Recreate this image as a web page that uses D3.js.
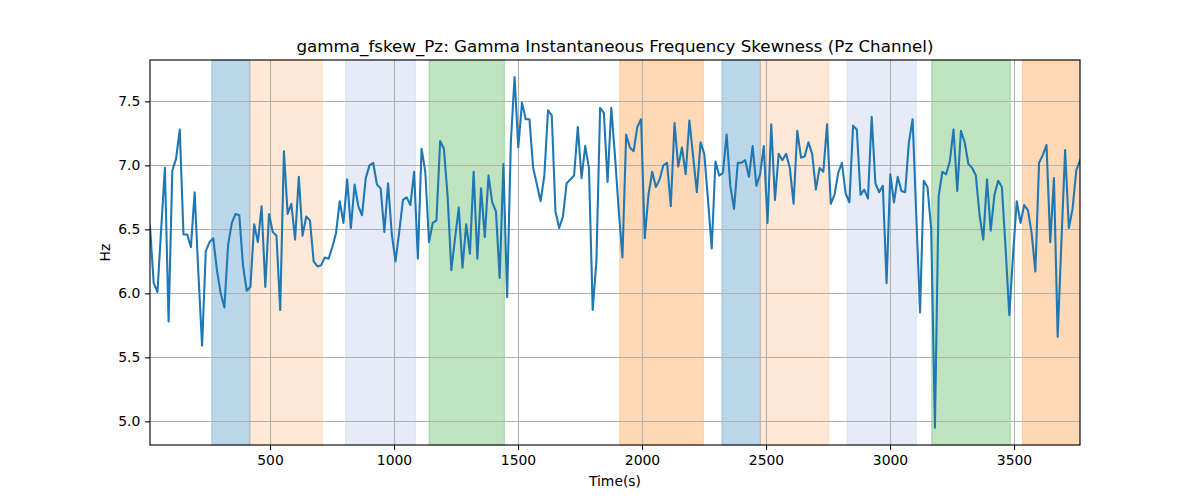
<!DOCTYPE html>
<html>
<head>
<meta charset="utf-8">
<script src="https://cdn.jsdelivr.net/npm/d3@7"></script>
<style>
  html, body { margin: 0; padding: 0; background: #fff; }
  svg { display: block; font-family: "DejaVu Sans", sans-serif; }
</style>
</head>
<body>
<svg id="chart" width="1200" height="500"></svg>
<script>
// ---- data ----
const timeStart = 16;
const timeStep = 15;
const values = [
  6.52, 6.08, 6.01, 6.50, 6.98, 5.78, 6.96, 7.05, 7.28, 6.46,
  6.46, 6.36, 6.79, 6.16, 5.59, 6.33, 6.40, 6.43, 6.18, 6.00,
  5.89, 6.38, 6.55, 6.62, 6.61, 6.22, 6.02, 6.05, 6.54, 6.40,
  6.68, 6.05, 6.62, 6.48, 6.45, 5.87, 7.11, 6.62, 6.70, 6.42,
  6.91, 6.45, 6.60, 6.57, 6.25, 6.21, 6.22, 6.28, 6.27, 6.36,
  6.47, 6.72, 6.55, 6.89, 6.51, 6.85, 6.68, 6.61, 6.90, 7.00,
  7.02, 6.85, 6.82, 6.48, 6.86, 6.46, 6.25, 6.48, 6.73, 6.75,
  6.69, 6.95, 6.27, 7.13, 6.95, 6.40, 6.55, 6.57, 7.19, 7.13,
  6.76, 6.18, 6.43, 6.67, 6.20, 6.54, 6.31, 6.95, 6.27, 6.82,
  6.44, 6.92, 6.71, 6.64, 6.12, 7.01, 5.97, 7.18, 7.69, 7.14,
  7.49, 7.36, 7.36, 6.98, 6.85, 6.72, 6.92, 7.43, 7.39, 6.64,
  6.51, 6.60, 6.86, 6.89, 6.92, 7.30, 6.90, 7.15, 6.98, 5.87,
  6.25, 7.45, 7.41, 6.87, 7.45, 7.07, 6.65, 6.28, 7.24, 7.14,
  7.11, 7.30, 7.36, 6.43, 6.77, 6.95, 6.83, 6.89, 7.00, 7.02,
  6.68, 7.33, 6.99, 7.14, 6.93, 7.35, 7.07, 6.79, 7.18, 7.09,
  6.73, 6.35, 7.03, 6.92, 6.94, 7.24, 6.84, 6.66, 7.02, 7.02,
  7.04, 6.91, 7.15, 6.84, 6.93, 7.15, 6.55, 7.32, 6.73, 7.09,
  7.04, 7.09, 6.98, 6.70, 7.27, 7.06, 7.07, 7.18, 7.09, 6.81,
  6.98, 6.95, 7.32, 6.70, 6.77, 6.94, 7.02, 6.78, 6.71, 7.31,
  7.28, 6.77, 6.81, 6.74, 7.38, 6.86, 6.79, 6.84, 6.08, 6.93,
  6.71, 6.91, 6.80, 6.79, 7.18, 7.36, 6.60, 5.85, 6.88, 6.83,
  6.50, 4.95, 6.76, 6.95, 6.93, 7.03, 7.28, 6.80, 7.27, 7.18,
  7.01, 6.98, 6.92, 6.61, 6.42, 6.89, 6.49, 6.77, 6.88, 6.83,
  6.35, 5.83, 6.30, 6.72, 6.55, 6.69, 6.65, 6.47, 6.17, 7.02,
  7.08, 7.16, 6.40, 6.90, 5.66, 6.40, 7.12, 6.51, 6.66, 6.96,
  7.04
];
const bandStarts = [265, 419, 805, 1141, 1910, 2322, 2477, 2826, 3168, 3534];
const bandEnds   = [419, 711, 1086, 1445, 2247, 2477, 2754, 3106, 3485, 3766];
const bandKinds  = ["blue", "lightorange", "lightblue", "green", "orange",
                    "blue", "lightorange", "lightblue", "green", "orange"];
const xTicks = [500, 1000, 1500, 2000, 2500, 3000, 3500];
const yTicks = [5.0, 5.5, 6.0, 6.5, 7.0, 7.5];
const xDomain = [16, 3766];
const yDomain = [4.815, 7.823];
const titleText = "gamma_fskew_Pz: Gamma Instantaneous Frequency Skewness (Pz Channel)";
const xLabel = "Time(s)";
const yLabel = "Hz";

// ---- styles ----
const bandColors = {
  blue: "rgba(31,119,180,0.3)",
  lightorange: "rgba(255,127,14,0.17)",
  lightblue: "rgba(100,140,210,0.17)",
  green: "rgba(44,160,44,0.3)",
  orange: "rgba(255,127,14,0.3)"
};

const points = values.map((v, i) => ({ t: timeStart + i * timeStep, v }));

const margin = { left: 150, right: 120, top: 60, bottom: 55 };
const W = 1200, H = 500;
const svg = d3.select("#chart");

const x = d3.scaleLinear().domain(xDomain).range([margin.left, W - margin.right]);
const y = d3.scaleLinear().domain(yDomain).range([H - margin.bottom, margin.top]);

// bands
svg.append("g").selectAll("rect")
  .data(bandStarts.map((s, i) => ({ s, e: bandEnds[i], k: bandKinds[i] })))
  .join("rect")
  .attr("x", d => x(d.s))
  .attr("width", d => x(d.e) - x(d.s))
  .attr("y", margin.top)
  .attr("height", H - margin.bottom - margin.top)
  .attr("fill", d => bandColors[d.k])
  .attr("stroke", d => bandColors[d.k])
  .attr("stroke-width", 1);

// grid
const grid = svg.append("g").attr("stroke", "#b0b0b0").attr("stroke-width", 1.1);
grid.selectAll("line.gx").data(xTicks).join("line")
  .attr("x1", d => Math.round(x(d)) + 0.5).attr("x2", d => Math.round(x(d)) + 0.5)
  .attr("y1", margin.top).attr("y2", H - margin.bottom);
grid.selectAll("line.gy").data(yTicks).join("line")
  .attr("y1", d => Math.round(y(d)) + 0.5).attr("y2", d => Math.round(y(d)) + 0.5)
  .attr("x1", margin.left).attr("x2", W - margin.right);

// line
const clipId = "plotclip";
svg.append("clipPath").attr("id", clipId).append("rect")
  .attr("x", margin.left).attr("y", margin.top)
  .attr("width", W - margin.left - margin.right)
  .attr("height", H - margin.top - margin.bottom);

svg.append("path")
  .datum(points)
  .attr("clip-path", `url(#${clipId})`)
  .attr("fill", "none")
  .attr("stroke", "#1f77b4")
  .attr("stroke-width", 2.08)
  .attr("stroke-linejoin", "round")
  .attr("stroke-linecap", "square")
  .attr("d", d3.line().x(d => x(d.t)).y(d => y(d.v)));

// axes
const xAxis = d3.axisBottom(x).tickValues(xTicks).tickFormat(d3.format("d"))
  .tickSize(4.86).tickPadding(4.86);
const yAxis = d3.axisLeft(y).tickValues(yTicks).tickFormat(d3.format(".1f"))
  .tickSize(4.86).tickPadding(4.86);

const gx = svg.append("g").attr("transform", `translate(0,${H - margin.bottom})`).call(xAxis);
const gy = svg.append("g").attr("transform", `translate(${margin.left},0)`).call(yAxis);
[gx, gy].forEach(g => {
  g.select(".domain").remove();
  g.selectAll(".tick line").attr("stroke", "#000").attr("stroke-width", 1.1);
  g.selectAll(".tick text").attr("fill", "#000")
    .style("font-family", "'DejaVu Sans', sans-serif").style("font-size", "13.9px");
});

// frame
svg.append("rect")
  .attr("x", margin.left).attr("y", margin.top)
  .attr("width", W - margin.left - margin.right)
  .attr("height", H - margin.top - margin.bottom)
  .attr("fill", "none").attr("stroke", "#000").attr("stroke-width", 1.1);

// labels
svg.append("text")
  .attr("x", (margin.left + W - margin.right) / 2).attr("y", 52)
  .attr("text-anchor", "middle")
  .style("font-size", "16.7px")
  .text(titleText);

svg.append("text")
  .attr("x", (margin.left + W - margin.right) / 2).attr("y", 486)
  .attr("text-anchor", "middle")
  .style("font-size", "13.9px")
  .text(xLabel);

svg.append("text")
  .attr("transform", `translate(110,${(margin.top + H - margin.bottom) / 2}) rotate(-90)`)
  .attr("text-anchor", "middle")
  .style("font-size", "13.9px")
  .text(yLabel);
</script>
</body>
</html>
